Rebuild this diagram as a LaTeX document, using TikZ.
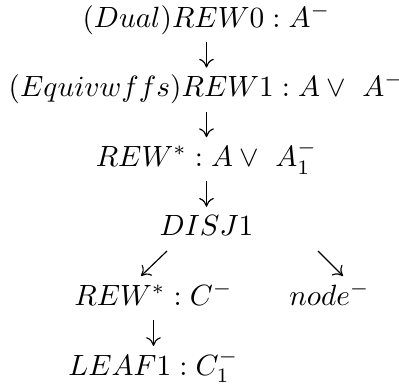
\documentclass[tikz,border=0pt]{standalone}
\usetikzlibrary{arrows.meta}
\begin{document}
\begin{tikzpicture}[x=0.3413pt,y=-0.3413pt,
  term/.style={inner sep=0pt, anchor=base},
  arr/.style={-{Computer Modern Rightarrow[length=3pt,width=5pt]}, line width=0.4pt},
  vstep/.style={arr, shorten <=5.1pt, shorten >=9.9pt}]
\useasboundingbox (0,0) rectangle (399,387);
% derivation steps
\node[term] (l1) at (206.5,27)    {$(Dual)REW0 : A^-$};
\node[term] (l2) at (206.5,96.6)  {$(Equivwffs)REW1 : A \vee\ A^-$};
\node[term] (l3) at (206.5,166.2) {$REW^* : A \vee\ A_1^-$};
\node[term] (l4) at (206.5,235.8) {$DISJ1$};
\node[term] (l5) at (153.5,305.4) {$REW^* : C^-$};
\node[term] (n5) at (329.5,305.4) {$node^-$};
\node[term] (l6) at (153.5,375)   {$LEAF1 : C_1^-$};
% arrows between steps
\draw[vstep] (l1.base) -- (l2.base);
\draw[vstep] (l2.base) -- (l3.base);
\draw[vstep] (l3.base) -- (l4.base);
\draw[vstep] (l5.base) -- (l6.base);
\draw[arr] ([shift={(-39.5,15.2)}]l4.base) -- ([shift={(-12.5,-29.4)}]l5.base);
\draw[arr] ([shift={(111.5,15.2)}]l4.base) -- ([shift={(13.5,-29.4)}]n5.base);
\end{tikzpicture}
\end{document}
